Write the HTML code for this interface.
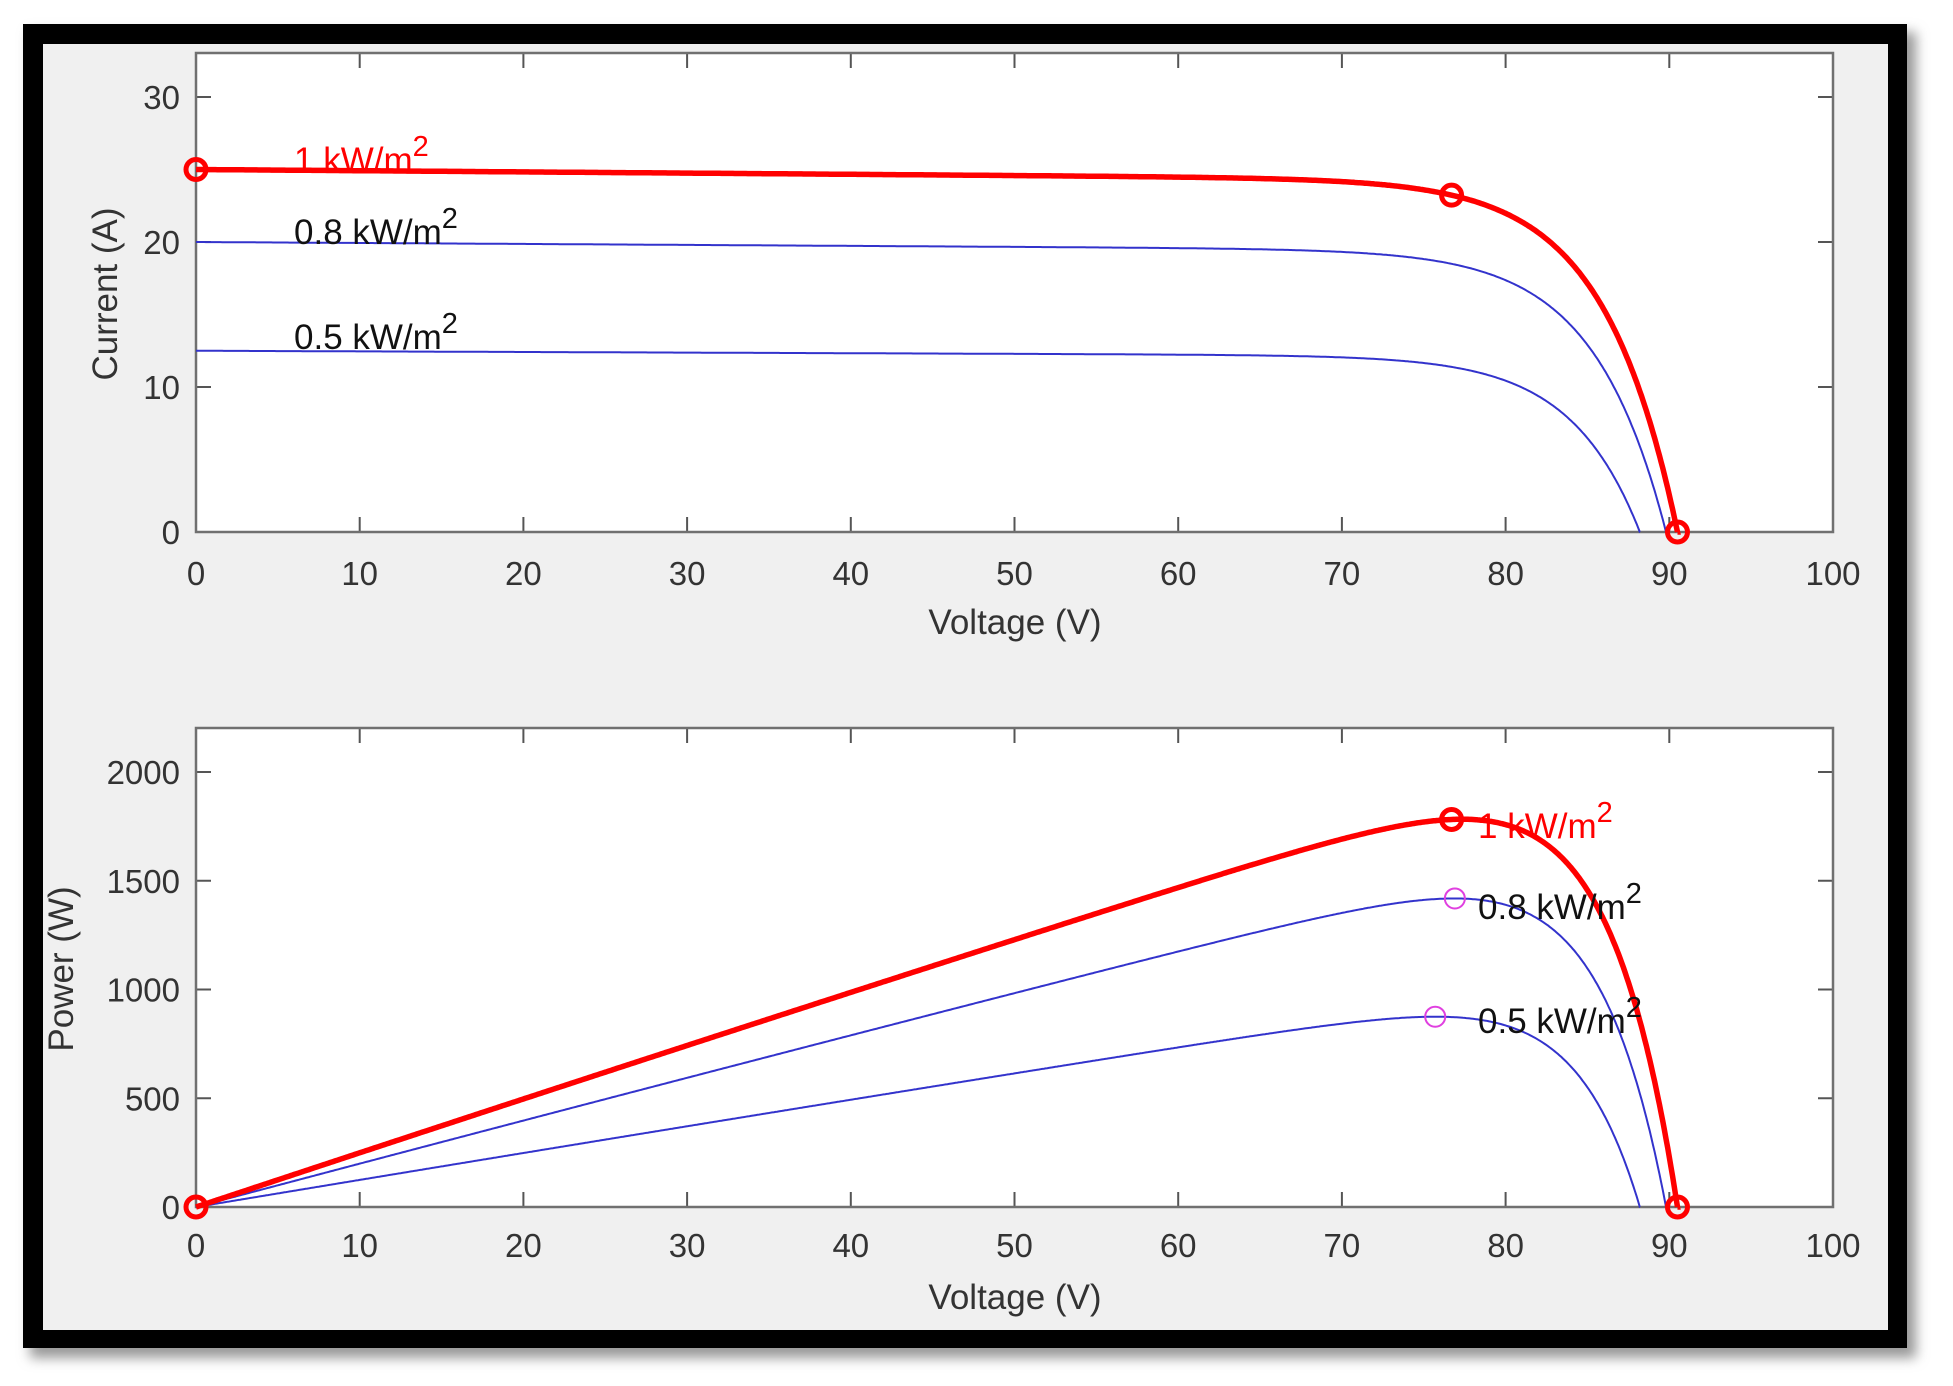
<!DOCTYPE html>
<html><head><meta charset="utf-8"><style>
html,body{margin:0;padding:0;background:#fff;}
svg{display:block;}
text{font-family:"Liberation Sans",sans-serif;fill:#333;}
</style></head><body>
<svg id="s" width="1953" height="1386" viewBox="0 0 1953 1386" xmlns="http://www.w3.org/2000/svg">
<defs><filter id="sh" x="-5%" y="-5%" width="110%" height="110%"><feGaussianBlur stdDeviation="6"/></filter></defs>
<rect x="30" y="32" width="1886" height="1326" fill="#999" filter="url(#sh)"/>
<rect x="23" y="24" width="1884" height="1324" fill="#000"/>
<rect x="43" y="44" width="1845" height="1286" fill="#f0f0f0"/>
<rect x="196" y="53" width="1637" height="479" fill="#fff"/>
<rect x="196" y="728" width="1637" height="479" fill="#fff"/>
<g id="g"></g>
<g font-size="35" text-anchor="middle">
<text x="1015" y="634">Voltage (V)</text>
<text x="1015" y="1309">Voltage (V)</text>
<text transform="translate(117,294) rotate(-90)">Current (A)</text>
<text transform="translate(73,969) rotate(-90)">Power (W)</text>
</g>
<g font-size="35">
<text x="294" y="172" style="fill:#f00">1 kW/m<tspan dy="-16" font-size="29" style="fill:#f00">2</tspan></text>
<text x="294" y="244" style="fill:#111">0.8 kW/m<tspan dy="-16" font-size="29">2</tspan></text>
<text x="294" y="349" style="fill:#111">0.5 kW/m<tspan dy="-16" font-size="29">2</tspan></text>
<text x="1478" y="838" style="fill:#f00">1 kW/m<tspan dy="-16" font-size="29" style="fill:#f00">2</tspan></text>
<text x="1478" y="919" style="fill:#111">0.8 kW/m<tspan dy="-16" font-size="29">2</tspan></text>
<text x="1478" y="1033" style="fill:#111">0.5 kW/m<tspan dy="-16" font-size="29">2</tspan></text>
</g>
</svg>
<script>
var NS="http://www.w3.org/2000/svg",g=document.getElementById("g");
function el(t,a,txt){var e=document.createElementNS(NS,t);for(var k in a)e.setAttribute(k,a[k]);if(txt!==undefined)e.textContent=txt;g.appendChild(e);return e;}
var X0=196,XS=16.37;
function px(v){return X0+v*XS;}
function yI(i){return 532-i*14.5;}
function yP(p){return 1207-p*0.2175;}
[[53,532,yI,[0,10,20,30],573],[728,1207,yP,[0,500,1000,1500,2000],1245]].forEach(function(A){
 var t=A[0],b=A[1],f=A[2];
 for(var v=0;v<=100;v+=10){var x=px(v);
  el("line",{x1:x,x2:x,y1:b,y2:b-15,stroke:"#555","stroke-width":2});
  el("line",{x1:x,x2:x,y1:t,y2:t+15,stroke:"#555","stroke-width":2});
  el("text",{x:x,y:A[4]+12,"font-size":33,"text-anchor":"middle"},String(v));}
 A[3].forEach(function(v){var y=f(v);
  el("line",{x1:196,x2:211,y1:y,y2:y,stroke:"#555","stroke-width":2});
  el("line",{x1:1833,x2:1818,y1:y,y2:y,stroke:"#555","stroke-width":2});
  el("text",{x:180,y:y+12,"font-size":33,"text-anchor":"end"},String(v));});
 el("rect",{x:196,y:t,width:1637,height:b-t,fill:"none",stroke:"#707070","stroke-width":2.5});
});
var curves=[[12.5,88.2,4.2,"#3333cc",2],[20,89.8,4.4,"#3333cc",2],[25,90.5,4.5,"#ff0000",5.5]];
curves.forEach(function(c){
 var isc=c[0],voc=c[1],a=c[2];
 function I(v){return isc*(1-0.03*v/voc)*(1-Math.exp((v-voc)/a))/(1-Math.exp(-voc/a));}
 var d1="",d2="",best=0,bv=0;
 for(var v=0;v<=voc+1e-9;v+=0.1){var i=Math.max(0,I(v));var p=v*i;if(p>best){best=p;bv=v;}
  d1+=(v?"L":"M")+px(v).toFixed(1)+","+yI(i).toFixed(1);
  d2+=(v?"L":"M")+px(v).toFixed(1)+","+yP(p).toFixed(1);}
 d1+="L"+px(voc)+","+yI(0);d2+="L"+px(voc)+","+yP(0);
 el("path",{d:d1,fill:"none",stroke:c[3],"stroke-width":c[4]});
 el("path",{d:d2,fill:"none",stroke:c[3],"stroke-width":c[4]});
 if(isc==25){
  [[px(0),yI(25)],[px(76.7),yI(I(76.7))],[px(voc),yI(0)],[px(0),yP(0)],[px(76.7),yP(76.7*I(76.7))],[px(voc),yP(0)]].forEach(function(q){
   el("circle",{cx:q[0],cy:q[1],r:10,fill:"none",stroke:"#f00","stroke-width":5});});
 } else {
  el("circle",{cx:px(bv),cy:yP(best),r:10,fill:"none",stroke:"#e040e0","stroke-width":2});
 }
});
</script>
</body></html>
